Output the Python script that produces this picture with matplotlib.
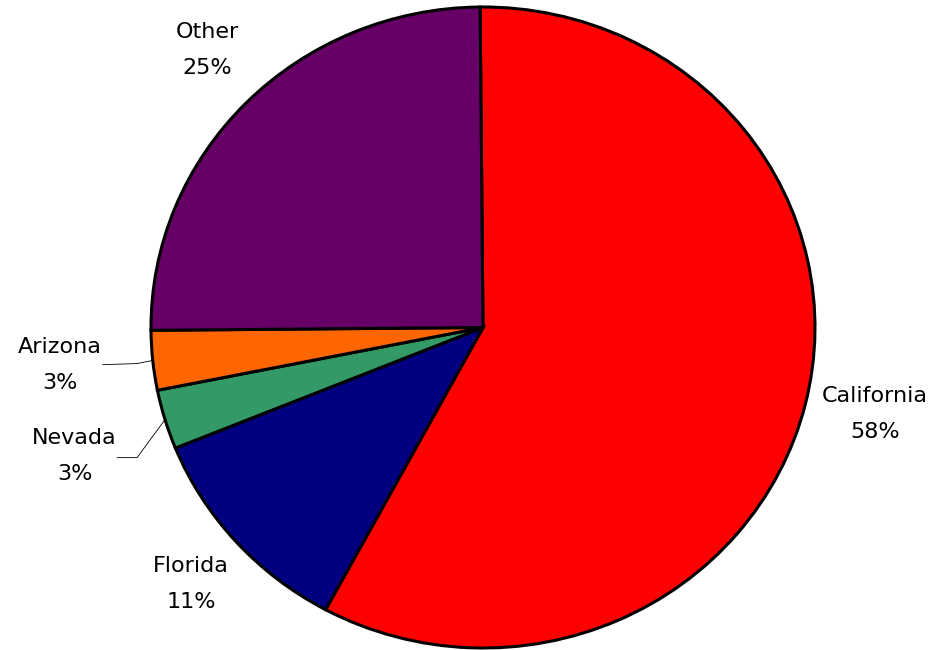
import numpy as np
import matplotlib
matplotlib.use("Agg")
import matplotlib.pyplot as plt

states = ["California", "Florida", "Nevada", "Arizona", "Other"]
shares = [58, 11, 3, 3, 25]
colors = ["#FF0000", "#000080", "#339966", "#FF6600", "#660066"]

# label centres (data units, pie radius = 1)
label_pos = {
    "California": (1.18, -0.27),
    "Florida": (-0.88, -0.80),
    "Nevada": (-1.23, -0.40),
    "Arizona": (-1.275, -0.116),
    "Other": (-0.83, 0.865),
}
# leader line end points for the thin slices
leader_pts = {
    "Nevada": [(-1.042, -0.406), (-1.102, -0.406)],
    "Arizona": [(-1.042, -0.1125), (-1.145, -0.116)],
}

fig = plt.figure(figsize=(9.35, 6.5), dpi=100)
ax = fig.add_axes([151 / 935, 2 / 650, 664 / 935, 641 / 650])

wedges, _ = ax.pie(shares, colors=colors, startangle=90.5, counterclock=False,
                   wedgeprops=dict(edgecolor="black", linewidth=2.2))
ax.set_aspect("auto")
ax.set_xlim(-1.0, 1.0)
ax.set_ylim(-1.0, 1.0)
ax.axis("off")

total = sum(shares)
for name, val, w in zip(states, shares, wedges):
    x, y = label_pos[name]
    ax.text(x, y, f"{name}\n{round(val / total * 100)}%", ha="center", va="center",
            fontsize=16, family="DejaVu Sans", linespacing=2.0, color="black")
    if name in leader_pts:
        mid = np.deg2rad((w.theta1 + w.theta2) / 2)
        pts = [(np.cos(mid), np.sin(mid))] + leader_pts[name]
        xs, ys = zip(*pts)
        ax.plot(xs, ys, color="black", lw=0.6, clip_on=False)

fig.savefig("out.png", dpi=100)
